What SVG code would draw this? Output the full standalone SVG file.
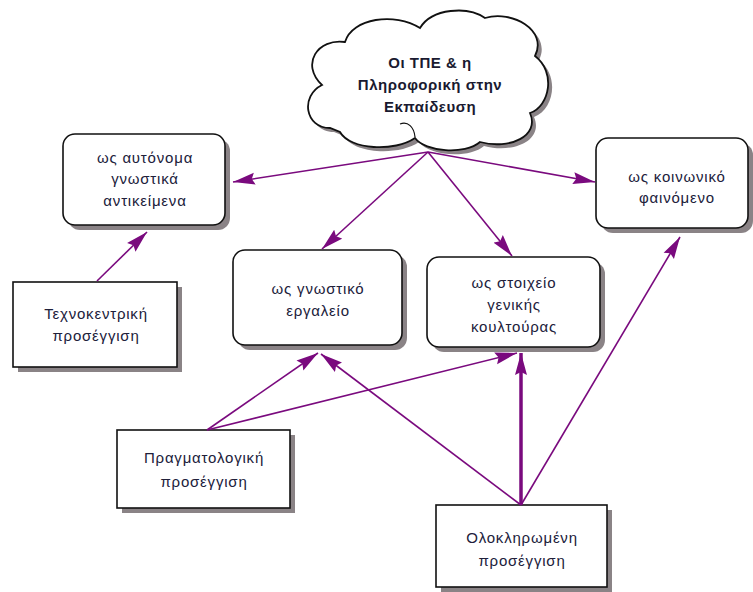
<svg xmlns="http://www.w3.org/2000/svg" width="753" height="592" viewBox="0 0 753 592">
<defs>
<style>
.sh{fill:#8a8386;stroke:none}
.bx{fill:#ffffff;stroke:#111111;stroke-width:1.6}
.t{font-family:"Liberation Sans",Arial,sans-serif;font-size:15px;fill:#20203a;text-anchor:middle;letter-spacing:0.8px}
.tb{font-family:"Liberation Sans",Arial,sans-serif;font-size:15px;font-weight:bold;fill:#1a1a30;text-anchor:middle;letter-spacing:0.5px}
.c{fill:none;stroke:#7a0a7e;stroke-width:1.6;marker-end:url(#ah)}
.ck{fill:none;stroke:#7a0a7e;stroke-width:3.5;marker-end:url(#ah)}
</style>
<marker id="ah" markerUnits="userSpaceOnUse" markerWidth="24" markerHeight="13" refX="22" refY="6.5" orient="auto">
<path d="M0,0.5 L22,6.5 L0,12.5 L3,6.5 z" fill="#7a0a7e"/>
</marker>
<path id="cloud" d="M330,128 C305,128 300,96 322,85 C300,64 318,38 345,42 C352,18 395,12 420,28 C432,8 468,6 485,18 C512,10 548,30 535,56 C556,72 550,106 530,113 C540,136 510,150 480,142 C465,155 425,152 415,138 C395,152 350,150 340,132 Z"/>
</defs>

<g id="cloud-node">
<use href="#cloud" transform="translate(4,4)" fill="#8a8386"/>
<use href="#cloud" fill="#ffffff" stroke="#111111" stroke-width="1.8"/>
<path d="M400,124 C408,121 414,127 415,137" fill="none" stroke="#111" stroke-width="1.2"/>
<text class="tb" x="430" y="68">Οι ΤΠΕ &amp; η</text>
<text class="tb" x="430" y="90">Πληροφορική στην</text>
<text class="tb" x="430" y="112">Εκπαίδευση</text>
</g>

<g id="autonoma">
<rect class="sh" x="68" y="139" width="162" height="91" rx="12"/>
<rect class="bx" x="63" y="134" width="162" height="91" rx="12"/>
<text class="t" x="145" y="163">ως αυτόνομα</text>
<text class="t" x="145" y="184">γνωστικά</text>
<text class="t" x="145" y="206">αντικείμενα</text>
</g>

<g id="koinoniko">
<rect class="sh" x="601" y="143" width="152" height="90" rx="12"/>
<rect class="bx" x="596" y="138" width="152" height="90" rx="12"/>
<text class="t" x="677" y="182">ως κοινωνικό</text>
<text class="t" x="677" y="203">φαινόμενο</text>
</g>

<g id="gnostiko">
<rect class="sh" x="238" y="255" width="169" height="95" rx="12"/>
<rect class="bx" x="233" y="250" width="169" height="95" rx="12"/>
<text class="t" x="318" y="294">ως γνωστικό</text>
<text class="t" x="318" y="316">εργαλείο</text>
</g>

<g id="stoixeio">
<rect class="sh" x="432" y="262" width="173" height="90" rx="12"/>
<rect class="bx" x="427" y="257" width="173" height="90" rx="12"/>
<text class="t" x="514" y="288">ως στοιχείο</text>
<text class="t" x="514" y="310">γενικής</text>
<text class="t" x="514" y="332">κουλτούρας</text>
</g>

<g id="texnokentriki">
<rect class="sh" x="18" y="287" width="164" height="85"/>
<rect class="bx" x="13" y="282" width="164" height="85"/>
<text class="t" x="96" y="319">Τεχνοκεντρική</text>
<text class="t" x="96" y="341">προσέγγιση</text>
</g>

<g id="pragmatologiki">
<rect class="sh" x="122" y="435" width="173" height="78"/>
<rect class="bx" x="117" y="430" width="173" height="78"/>
<text class="t" x="204" y="463">Πραγματολογική</text>
<text class="t" x="204" y="487">προσέγγιση</text>
</g>

<g id="oloklirwmeni">
<rect class="sh" x="441" y="510" width="171" height="82"/>
<rect class="bx" x="436" y="505" width="171" height="82"/>
<text class="t" x="522" y="543">Ολοκληρωμένη</text>
<text class="t" x="522" y="566">προσέγγιση</text>
</g>

<g id="connectors">
<line class="c" x1="428" y1="152" x2="233" y2="182"/>
<line class="c" x1="428" y1="152" x2="595" y2="182"/>
<line class="c" x1="428" y1="152" x2="322" y2="249"/>
<line class="c" x1="428" y1="152" x2="512" y2="256"/>
<line class="c" x1="97" y1="281" x2="147" y2="232"/>
<line class="c" x1="207" y1="430" x2="318" y2="353"/>
<line class="c" x1="207" y1="430" x2="517" y2="353"/>
<line class="c" x1="521" y1="505" x2="321" y2="354"/>
<line class="ck" x1="521" y1="505" x2="521" y2="353"/>
<line class="c" x1="521" y1="505" x2="680" y2="237"/>
</g>
</svg>
